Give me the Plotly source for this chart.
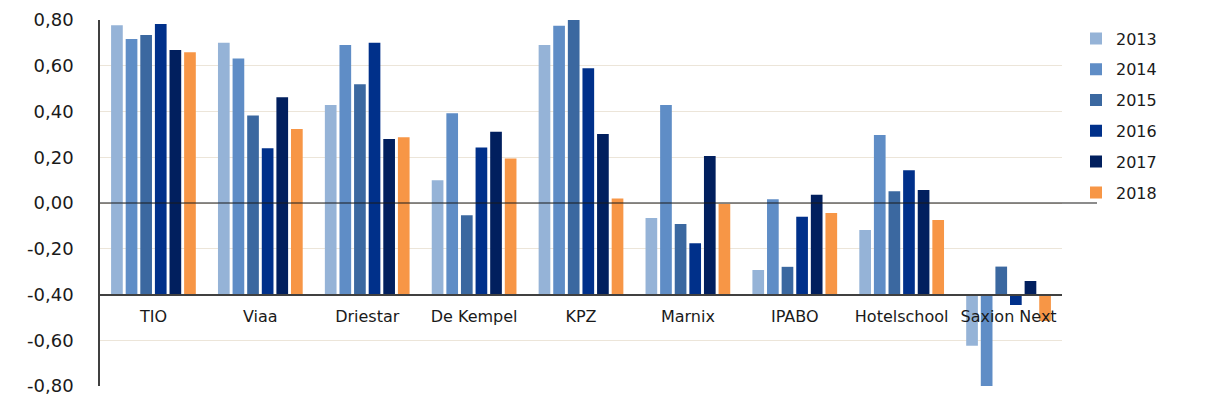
import plotly.graph_objects as go

categories = ["TIO", "Viaa", "Driestar", "De Kempel", "KPZ", "Marnix", "IPABO", "Hotelschool", "Saxion Next"]
years = ["2013", "2014", "2015", "2016", "2017", "2018"]

v2013 = [0.777, 0.701, 0.428, 0.099, 0.691, -0.066, -0.293, -0.118, -0.624]
v2014 = [0.717, 0.632, 0.691, 0.392, 0.775, 0.428, 0.016, 0.297, -0.812]
v2015 = [0.734, 0.382, 0.519, -0.054, 0.800, -0.092, -0.279, 0.051, -0.278]
v2016 = [0.783, 0.239, 0.701, 0.243, 0.589, -0.176, -0.060, 0.143, -0.446]
v2017 = [0.669, 0.462, 0.280, 0.312, 0.302, 0.205, 0.036, 0.057, -0.341]
v2018 = [0.659, 0.323, 0.287, 0.195, 0.020, -0.004, -0.044, -0.074, -0.516]
series = [v2013, v2014, v2015, v2016, v2017, v2018]

colors = ["#95B3D7", "#5F8DC6", "#3B68A0", "#00308A", "#011F5E", "#F79646"]

ytickvals = [0.8, 0.6, 0.4, 0.2, 0.0, -0.2, -0.4, -0.6, -0.8]
yticktext = ["0,80", "0,60", "0,40", "0,20", "0,00", "-0,20", "-0,40", "-0,60", "-0,80"]

BASE = -0.4  # horizontal axis crosses at -0,40
YMIN, YMAX = -0.8, 0.8

FONT = "DejaVu Sans"

W, H = 1205, 409
ML, MR, MT, MB = 92, 10, 0, 31
PW, PH = W - ML - MR, H - MT - MB
XDOM = [0, 962 / PW]
YDOM = [0, 366 / PH]

fig = go.Figure()
for name, vals, col in zip(years, series, colors):
    fig.add_trace(go.Bar(
        name=name, x=categories, y=[v - BASE for v in vals], base=BASE,
        marker=dict(color=col, line=dict(width=0)),
        legendgroup=name,
    ))

fig.update_layout(
    width=W, height=H,
    margin=dict(l=ML, r=MR, t=MT, b=MB, autoexpand=False),
    paper_bgcolor="white", plot_bgcolor="white",
    barmode="group", bargap=0.18, bargroupgap=0.2,
    font=dict(family=FONT, color="#1a1a1a"),
    showlegend=True,
    legend=dict(x=(1068 - ML) / PW, xanchor="left", y=1 - 13.5 / PH, yanchor="top",
                font=dict(size=16, family=FONT, color="#1a1a1a"),
                itemwidth=30, tracegroupgap=7, bgcolor="rgba(0,0,0,0)"),
    xaxis=dict(
        domain=XDOM,
        anchor="free", position=YDOM[1] * (BASE - YMIN) / (YMAX - YMIN),
        showline=True, linecolor="#404040", linewidth=1.5,
        showgrid=False, ticks="outside", ticklen=8, tickcolor="rgba(0,0,0,0)",
        tickfont=dict(size=16, family=FONT, color="#1a1a1a"),
        fixedrange=True,
    ),
    yaxis=dict(
        domain=YDOM,
        range=[YMIN, YMAX], tickvals=ytickvals, ticktext=yticktext,
        showline=True, linecolor="#404040", linewidth=1.5,
        showgrid=True, gridcolor="#ECE5D9", gridwidth=1,
        zeroline=False,
        ticks="outside", ticklen=21, tickcolor="rgba(0,0,0,0)",
        tickfont=dict(size=18, family=FONT, color="#1a1a1a"),
    ),
    shapes=[
        dict(type="line", xref="paper", yref="y", x0=0, x1=(1089 - ML) / PW, y0=0, y1=0,
             line=dict(color="#1a1a1a", width=1.2), layer="above"),
        dict(type="line", xref="paper", yref="paper", x0=(1190 - ML) / PW, x1=(1190 - ML) / PW,
             y0=-0.1, y1=1.05,
             line=dict(color="#BEBEBE", width=1.5, dash="2px,21px")),
    ],
)

fig.write_html("out.html")
